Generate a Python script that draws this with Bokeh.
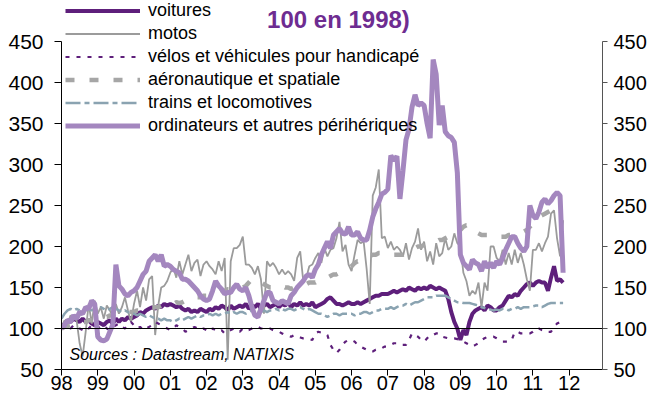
from bokeh.plotting import figure
from bokeh.models import Range1d, LinearAxis, FixedTicker, Span, Legend, LegendItem, Label
from bokeh.embed import file_html
from bokeh.resources import INLINE

# ---------------- data (monthly, Jan 1998 - Nov 2011) ----------------
year_ticks = list(range(1998, 2013))
year_labels = ["98", "99", "00", "01", "02", "03", "04", "05", "06", "07", "08", "09", "10", "11", "12"]
value_ticks = [50, 100, 150, 200, 250, 300, 350, 400, 450]

voitures = [
    100, 106, 110, 108, 112, 110, 108, 112, 108, 110, 106, 104,
    108, 106, 104, 108, 110, 106, 112, 108, 112, 110, 114, 112,
    114, 116, 120, 118, 122, 124, 126, 124, 128, 126, 130, 128,
    130, 128, 126, 128, 124, 122, 124, 120, 122, 120, 124, 122,
    120, 124, 122, 126, 124, 128, 126, 122, 128, 124, 126, 128,
    126, 130, 124, 128, 126, 130, 124, 128, 130, 126, 128, 130,
    126, 130, 128, 132, 126, 130, 128, 132, 128, 130, 128, 132,
    126, 128, 130, 132, 136, 138, 134, 130, 130, 128, 130, 132,
    130, 130, 132, 130, 132, 134, 136, 138, 140, 140, 142, 142,
    142, 144, 146, 144, 146, 148, 146, 150, 148, 146, 150, 148,
    150, 148, 152, 150, 148, 150, 148, 146, 136, 120, 108, 100,
    86, 98, 92, 108, 118, 122, 124, 126, 122, 128, 126, 122,
    122, 126, 128, 134, 140, 138, 142, 140, 146, 150, 154, 156,
    152, 156, 158, 156, 156, 146, 162, 176, 158, 160, 156,
]

motos = [
    100, 110, 106, 116, 112, 110, 82, 66, 96, 130, 106, 134,
    118, 126, 112, 128, 122, 114, 130, 118, 126, 138, 122, 108,
    130, 146, 126, 150, 134, 160, 164, 92, 128, 150, 152, 158,
    168, 174, 162, 182, 166, 178, 190, 170, 180, 184, 164, 178,
    182, 176, 172, 166, 182, 170, 186, 62, 182, 198, 198, 202,
    212, 178, 178, 174, 166, 176, 160, 118, 182, 176, 180, 174,
    166, 172, 166, 170, 166, 158, 186, 194, 158, 162, 176, 178,
    186, 192, 180, 198, 188, 196, 198, 210, 230, 194, 202, 178,
    170, 190, 208, 204, 206, 172, 130, 262, 272, 294, 210, 212,
    198, 206, 196, 200, 196, 188, 204, 184, 198, 206, 222, 196,
    206, 182, 194, 178, 204, 188, 192, 210, 196, 200, 216, 204,
    200, 168, 158, 140, 146, 142, 156, 126, 156, 146, 200, 200,
    186, 182, 196, 178, 192, 178, 196, 180, 192, 178, 160, 146,
    196, 196, 204, 194, 204, 212, 240, 244, 210, 188, 232,
]

velos = [
    100, 104, 102, 100, 104, 102, 100, 98, 102, 100, 104, 102,
    100, 102, 104, 100, 98, 102, 104, 106, 102, 100, 104, 108,
    104, 100, 102, 98, 100, 102, 104, 108, 106, 104, 102, 100,
    98, 100, 104, 102, 100, 96, 98, 100, 102, 100, 98, 100,
    98, 96, 100, 98, 96, 98, 94, 96, 98, 100, 98, 96,
    100, 98, 98, 100, 102, 102, 100, 100, 100, 100, 98, 97,
    96, 94, 92, 91, 90, 92, 90, 89, 88, 88, 87, 86,
    94, 96, 95, 94, 92, 80, 74, 70, 74, 80, 84, 86,
    86, 84, 80, 78, 76, 74, 72, 72, 74, 74, 76, 78,
    78, 80, 82, 82, 80, 80, 80, 86, 94, 92, 90, 86,
    84, 88, 92, 92, 94, 94, 90, 89, 88, 88, 88, 87,
    86, 84, 82, 80, 78, 80, 82, 86, 88, 90, 90, 90,
    88, 86, 84, 84, 84, 86, 96, 96, 94, 94, 94, 94,
    96, 100, 100, 98, 98, 96, 96, 102, 106, 108, 110,
]

aero = [
    100, 102, 103, 104, 104, 106, 106, 108, 108, 110, 110, 112,
    112, 112, 114, 114, 116, 116, 118, 118, 118, 120, 120, 120,
    120, 122, 122, 124, 124, 124, 126, 126, 126, 128, 128, 130,
    130, 130, 132, 131, 132, 134, 134, 136, 136, 138, 138, 140,
    140, 142, 142, 142, 144, 146, 146, 148, 148, 150, 150, 150,
    150, 152, 156, 160, 160, 158, 156, 154, 152, 150, 150, 150,
    150, 152, 150, 150, 148, 150, 152, 152, 154, 154, 156, 156,
    156, 158, 158, 160, 162, 164, 166, 166, 168, 170, 172, 174,
    176, 180, 182, 182, 184, 186, 188, 190, 190, 192, 192, 192,
    192, 192, 190, 190, 190, 190, 192, 194, 196, 198, 200, 200,
    202, 204, 204, 206, 206, 208, 208, 210, 212, 212, 214, 216,
    220, 224, 226, 226, 222, 218, 216, 214, 214, 214, 212, 212,
    212, 212, 212, 212, 214, 214, 216, 216, 218, 218, 220, 224,
    228, 232, 236, 238, 240, 242, 244, 244, 242, 240, 238,
]

trains = [
    112, 118, 122, 124, 122, 124, 122, 120, 122, 124, 122, 124,
    124, 126, 124, 122, 124, 126, 124, 122, 120, 122, 120, 118,
    118, 116, 118, 116, 114, 116, 114, 112, 112, 110, 112, 110,
    110, 108, 110, 112, 110, 112, 114, 112, 114, 116, 114, 116,
    116, 118, 116, 118, 116, 118, 118, 120, 118, 120, 118, 120,
    120, 118, 120, 122, 120, 122, 120, 122, 120, 122, 122, 124,
    122, 124, 122, 124, 124, 122, 124, 126, 124, 122, 124, 122,
    120, 118, 118, 116, 114, 116, 118, 118, 116, 118, 118, 118,
    118, 116, 118, 118, 120, 120, 118, 120, 122, 122, 124, 124,
    124, 126, 124, 126, 128, 128, 130, 128, 130, 132, 132, 134,
    136, 138, 138, 138, 140, 140, 140, 140, 138, 136, 134, 132,
    132, 131, 131, 131, 130, 129, 128, 126, 125, 124, 123, 122,
    123, 122, 124, 124, 122, 124, 124, 126, 124, 126, 126, 126,
    127, 128, 128, 126, 128, 130, 131, 131, 131, 131, 131,
]

ordinateurs = [
    100, 104, 110, 108, 116, 112, 120, 118, 126, 124, 134, 130,
    90, 86, 85, 87, 96, 105, 178, 152, 148, 142, 140, 144,
    146, 150, 158, 166, 170, 182, 186, 190, 182, 190, 176, 178,
    176, 172, 170, 168, 160, 160, 158, 154, 150, 146, 140, 136,
    134, 136, 146, 158, 152, 148, 142, 144, 144, 150, 154, 148,
    146, 150, 140, 126, 116, 114, 124, 134, 144, 144, 134, 132,
    130, 134, 132, 130, 140, 144, 150, 154, 158, 164, 166, 162,
    172, 178, 190, 198, 206, 198, 214, 218, 222, 216, 215, 224,
    214, 214, 218, 210, 208, 208, 220, 236, 246, 254, 264, 266,
    270, 311, 305, 310, 258, 292, 330, 343, 370, 385, 372, 375,
    372, 350, 332, 428, 410, 348, 372, 340, 335, 333, 327, 290,
    190, 180, 176, 172, 184, 180, 178, 170, 182, 174, 180, 174,
    182, 178, 186, 196, 204, 212, 212, 204, 198, 194, 200, 250,
    238, 234, 242, 254, 258, 252, 256, 262, 266, 262, 168,
]

n_months = len(voitures)
for s in (motos, velos, aero, trains, ordinateurs):
    assert len(s) == n_months, len(s)
months = [1998 + i / 12 for i in range(n_months)]

# ---------------- figure ----------------
FONT = "Liberation Sans"
p = figure(width=649, height=398, output_backend="svg", toolbar_location=None,
           x_range=Range1d(1998, 2012.92), y_range=Range1d(50, 500),
           min_border_left=61, min_border_right=46, min_border_top=0, min_border_bottom=29)
p.xgrid.visible = False
p.ygrid.visible = False
p.outline_line_color = None
p.background_fill_color = "white"
p.border_fill_color = "white"

ya = p.yaxis[0]
ya.ticker = FixedTicker(ticks=value_ticks)
ya.bounds = (50, 450)
ya.axis_line_color = "black"
ya.major_tick_line_color = "black"
ya.major_tick_out = 7
ya.major_tick_in = 0
ya.minor_tick_out = 0
ya.minor_tick_in = 0
ya.major_label_standoff = 11
ya.major_label_text_font = FONT
ya.major_label_text_font_size = "21px"
ya.major_label_text_color = "black"

ra = LinearAxis(ticker=FixedTicker(ticks=value_ticks), bounds=(50, 450),
                axis_line_color="#555555", major_tick_line_color="#555555",
                major_tick_out=5, major_tick_in=0, minor_tick_out=0, minor_tick_in=0,
                major_label_standoff=6, major_label_text_font=FONT,
                major_label_text_font_size="20px", major_label_text_color="black")
p.add_layout(ra, "right")

xa = p.xaxis[0]
xa.ticker = FixedTicker(ticks=year_ticks)
xa.major_label_overrides = {t: l for t, l in zip(year_ticks, year_labels)}
xa.axis_line_color = "black"
xa.major_tick_line_color = "black"
xa.major_tick_out = 6
xa.major_tick_in = 0
xa.minor_tick_out = 0
xa.minor_tick_in = 0
xa.major_label_standoff = 0
xa.major_label_text_font = FONT
xa.major_label_text_font_size = "20px"
xa.major_label_text_color = "black"

p.add_layout(Span(location=100, dimension="width", line_color="black", line_width=1))

PURPLE = "#5E1F7B"
r_voit = p.line(months, voitures, line_color=PURPLE, line_width=4)
r_moto = p.line(months, motos, line_color="#9B9B9B", line_width=1.8)
r_velo = p.line(months, velos, line_color=PURPLE, line_width=2.2, line_dash="4 7")
r_aero = p.line(months, aero, line_color="#A6A6A6", line_width=4.5, line_dash="9 15")
r_train = p.line(months, trains, line_color="#8AA3B1", line_width=2.5, line_dash="15 4 5 4")
r_ordi = p.line(months, ordinateurs, line_color="#A487BF", line_width=5)

legend = Legend(items=[
    LegendItem(label="voitures", renderers=[r_voit]),
    LegendItem(label="motos", renderers=[r_moto]),
    LegendItem(label="vélos et véhicules pour handicapé", renderers=[r_velo]),
    LegendItem(label="aéronautique et spatiale", renderers=[r_aero]),
    LegendItem(label="trains et locomotives", renderers=[r_train]),
    LegendItem(label="ordinateurs et autres périhériques", renderers=[r_ordi]),
], location=(4, 232), orientation="vertical", glyph_width=75, glyph_height=23,
    label_height=23, spacing=0, padding=0, margin=0, label_standoff=8,
    label_text_font=FONT, label_text_font_size="18px", label_text_color="black",
    background_fill_alpha=0, border_line_alpha=0)
p.add_layout(legend)

p.add_layout(Label(x=2003.67, y=476.8, text="100 en 1998)", text_color="#6E2C91",
                   text_font=FONT, text_font_style="bold", text_font_size="24px",
                   text_baseline="alphabetic"))
p.add_layout(Label(x=1998.22, y=68.3, text="Sources : Datastream, NATIXIS",
                   text_font=FONT, text_font_style="italic", text_font_size="16px",
                   text_color="black", text_baseline="middle"))

open("out.html", "w").write(file_html(p, INLINE))
